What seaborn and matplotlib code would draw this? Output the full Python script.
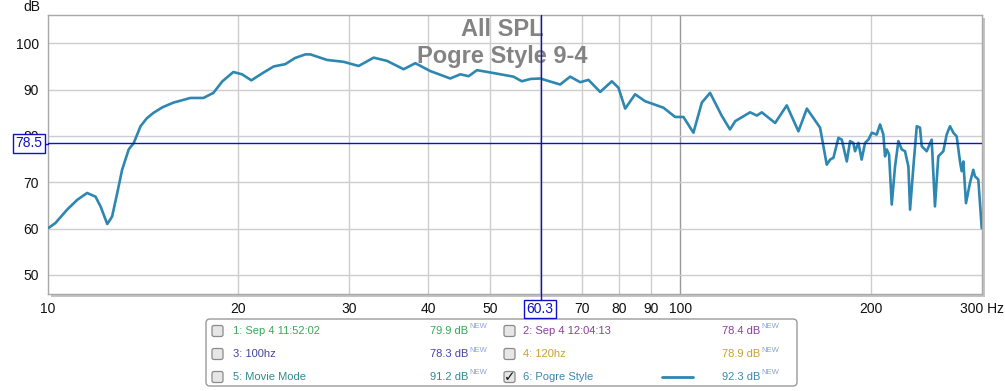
import matplotlib
matplotlib.use("Agg")
import matplotlib.pyplot as plt
import seaborn as sns
from matplotlib.patches import Rectangle, FancyBboxPatch
from matplotlib.transforms import IdentityTransform

# frequency response (Hz, dB)
freq_hz = [10.05, 10.29, 10.74, 11.14, 11.55, 11.91, 12.13, 12.43, 12.65, 12.89,
           13.12, 13.44, 13.69, 14.03, 14.35, 14.71, 15.2, 15.82, 16.82, 17.64, 18.29,
           18.9, 19.67, 20.3, 21.0, 21.9, 22.78, 23.77, 24.6, 25.56, 26.03, 27.66, 29.38,
           31.03, 32.78, 34.41, 36.55, 38.14, 40.28, 43.32, 44.92, 46.31, 47.74, 50.11,
           54.5, 56.2, 58.0, 60.1, 64.61, 67.01, 69.5, 71.63, 74.74, 78.0, 79.89, 81.87,
           84.88, 88.02, 94.1, 98.19, 101.2, 104.95, 108.2, 111.5, 116.4, 119.9,
           122.2, 129.0, 132.2, 134.6, 141.3, 147.4, 153.8, 158.6, 166.4, 170.5,
           172.6, 174.7, 177.9, 180.1, 183.4, 185.6, 187.8, 189.0, 191.3, 193.6,
           196.0, 198.4, 200.9, 204.5, 207.0, 209.5, 210.8, 212.1, 213.9, 216.0,
           218.6, 221.3, 224.0, 226.7, 229.5, 230.9, 233.7, 236.6, 239.4, 240.9,
           245.3, 249.8, 252.8, 255.9, 260.6, 263.8, 267.0, 270.3, 273.6, 276.9,
           278.6, 280.3, 283.0, 287.1, 290.6, 292.4, 296.0, 299.7]
spl_db = [60.2, 61.2, 64.1, 66.2, 67.7, 66.9, 64.8, 61.0, 62.6, 67.7,
          72.7, 77.1, 78.5, 82.1, 83.8, 85.0, 86.2, 87.2, 88.2, 88.2, 89.3,
          91.8, 93.8, 93.3, 92.0, 93.6, 95.0, 95.5, 96.8, 97.6, 97.6, 96.4, 96.0,
          95.1, 96.9, 96.2, 94.4, 95.7, 94.0, 92.4, 93.3, 92.9, 94.2, 93.7,
          92.8, 91.8, 92.3, 92.4, 91.1, 92.8, 91.6, 92.1, 89.5, 91.8, 90.4, 85.9,
          89.0, 87.5, 86.1, 84.1, 84.1, 80.7, 87.2, 89.3, 84.3, 81.4,
          83.2, 85.1, 84.4, 85.1, 82.8, 86.6, 81.0, 85.9, 81.8, 73.8,
          74.9, 75.3, 79.6, 79.2, 74.5, 78.9, 78.5, 76.7, 78.5, 74.9,
          78.5, 79.2, 80.7, 80.3, 82.5, 80.3, 75.6, 77.1, 76.0, 65.2,
          73.4, 78.9, 77.1, 76.7, 73.4, 64.1, 73.4, 82.1, 81.8, 77.8,
          76.7, 79.2, 64.8, 75.6, 76.7, 80.3, 82.1, 80.7, 79.9, 74.5,
          72.4, 74.5, 65.5, 69.8, 72.7, 71.3, 70.6, 60.1]

x_ticks = [10, 20, 30, 40, 50, 60, 70, 80, 90, 100, 200, 300]
x_labels = ["10", "20", "30", "40", "50", "", "70", "80", "90", "100", "200", "300 Hz"]
y_ticks = [50, 60, 70, 80, 90, 100]
cursor_freq = 60.3
cursor_db = 78.5

legend_names = ["1: Sep 4 11:52:02", "2: Sep 4 12:04:13", "3: 100hz", "4: 120hz",
                "5: Movie Mode", "6: Pogre Style"]
legend_values = ["79.9 dB", "78.4 dB", "78.3 dB", "78.9 dB", "91.2 dB", "92.3 dB"]
legend_colors = ["#36a85a", "#8c3c9c", "#4444a0", "#c9a02e", "#2f8c8c", "#3a88ae"]

line_color = "#2e87b1"
W, H = 1005, 391

sns.set_style("white")
plt.rcParams["font.family"] = ["Liberation Sans", "DejaVu Sans"]

fig = plt.figure(figsize=(W / 100, H / 100), dpi=100)
ax = fig.add_axes([47.5 / W, 1 - 294 / H, (982 - 47.5) / W, (294 - 15) / H])

# drop shadow of the graph frame
fig.add_artist(Rectangle((50.5, H - 297), 934.5, 279, transform=IdentityTransform(),
                         facecolor="#c4c4c4", edgecolor="none", zorder=0))
ax.set_zorder(1)

sns.lineplot(x=freq_hz, y=spl_db, ax=ax, color=line_color, linewidth=1.9, zorder=5,
             solid_joinstyle="round", solid_capstyle="round")

ax.set_xscale("log")
ax.set_xlim(10, 300)
ax.set_ylim(45.9, 106.1)
ax.set_xticks(x_ticks)
ax.set_xticklabels(x_labels)
ax.minorticks_off()
ax.set_yticks(y_ticks)
ax.tick_params(axis="both", length=0, labelsize=10, colors="#111111")
ax.tick_params(axis="x", pad=6)
ax.tick_params(axis="y", pad=6)
ax.set_xlabel("")
ax.set_ylabel("")

for f in [20, 30, 40, 50, 60, 70, 80, 90, 200]:
    ax.axvline(f, color="#cdcdcd", lw=1, zorder=1)
ax.axvline(100, color="#9a9a9a", lw=1, zorder=1)
for d in y_ticks:
    ax.axhline(d, color="#cdcdcd", lw=1, zorder=1)
for s in ax.spines.values():
    s.set_color("#a8a8a8")
    s.set_linewidth(1)

# cursors
ax.axhline(cursor_db, color="#1010c8", lw=1, zorder=6)
ax.axvline(cursor_freq, color="#1010c8", lw=1, zorder=6)
fig.add_artist(plt.Line2D([541, 541], [H - 294, H - 300], transform=IdentityTransform(),
                          color="#1010c8", lw=1))
fig.add_artist(plt.Line2D([45, 48], [H - 143.5, H - 143.5], transform=IdentityTransform(),
                          color="#1010c8", lw=1))
box = dict(boxstyle="square,pad=0.15", facecolor="white", edgecolor="#1010c8", lw=1)
fig.text(29 / W, 1 - 143.5 / H, "78.5", ha="center", va="center", fontsize=10,
         color="#1010c8", bbox=box, zorder=10)
fig.text(540 / W, 1 - 309 / H, "60.3", ha="center", va="center", fontsize=10,
         color="#1010c8", bbox=box, zorder=10)

fig.text(40 / W, 1 - 7 / H, "dB", ha="right", va="center", fontsize=10, color="#111111")

# graph titles (cursor line sits over them in the reference)
ax.text(0.5, 1 - 30 / H, "All SPL", transform=fig.transFigure, ha="center", va="center",
        fontsize=17, fontweight="bold", color="#838383", zorder=4)
ax.text(0.5, 1 - 57 / H, "Pogre Style 9-4", transform=fig.transFigure, ha="center",
        va="center", fontsize=17, fontweight="bold", color="#838383", zorder=4)

# legend panel
fig.add_artist(FancyBboxPatch((206, H - 386), 591, 67, transform=IdentityTransform(),
                              boxstyle="round,pad=0,rounding_size=4",
                              facecolor="white", edgecolor="#9a9a9a", lw=1))
row_y = [331, 354, 377]
col_box = [212, 504]
col_text = [233, 523]
col_val = [430, 722]
for i, name in enumerate(legend_names):
    r, c = i // 2, i % 2
    yy = row_y[r]
    fig.add_artist(FancyBboxPatch((col_box[c], H - yy - 5.5), 11, 11, transform=IdentityTransform(),
                                  boxstyle="round,pad=0,rounding_size=2",
                                  facecolor="#e6e6e6", edgecolor="#8a8a8a", lw=0.9))
    if i == 5:
        fig.text((col_box[c] + 6) / W, 1 - yy / H, "\u2713", ha="center", va="center",
                 fontsize=10, fontweight="bold", color="#111111", family="DejaVu Sans")
        fig.add_artist(plt.Line2D([662, 693], [H - yy, H - yy], transform=IdentityTransform(),
                                  color=line_color, lw=2))
    fig.text(col_text[c] / W, 1 - yy / H, name, ha="left", va="center", fontsize=8,
             color=legend_colors[i])
    fig.text(col_val[c] / W, 1 - yy / H, legend_values[i], ha="left", va="center",
             fontsize=8, color=legend_colors[i])
    fig.text((col_val[c] + 39) / W, 1 - (yy - 4) / H, "NEW", ha="left", va="center",
             fontsize=5.5, color="#8aa0e0")

fig.savefig("out.png", dpi=100)
